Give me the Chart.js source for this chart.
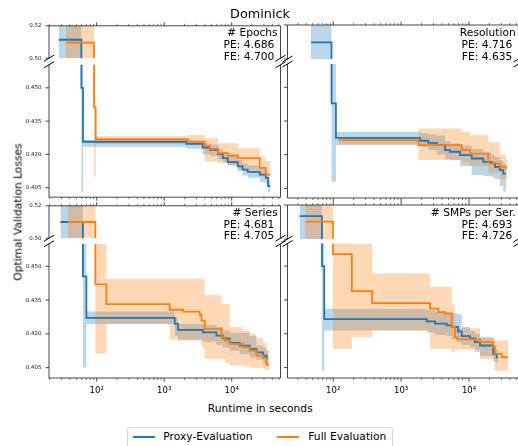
<!DOCTYPE html>
<html>
<head>
<meta charset="utf-8">
<script src="https://cdn.jsdelivr.net/npm/chart.js@4.4.1/dist/chart.umd.min.js"></script>
<style>
  html, body { margin: 0; padding: 0; background: #fff; }
  body { position: relative; width: 518px; height: 446px; overflow: hidden;
         font-family: "DejaVu Sans", sans-serif; color: #000; }
  canvas { position: absolute; }
  .txt { position: absolute; white-space: nowrap; }
  .note { position: absolute; text-align: right; font-size: 10.7px; line-height: 11.9px; white-space: nowrap; }
  .note .v { padding-right: 3.4px; }
</style>
</head>
<body>
<div id="fig"></div>
<script>
// --- Data (runtime in seconds vs. loss) ---
const PANEL_NAMES = ['# Epochs', 'Resolution', '# Series', '# SMPs per Ser.'];
const PE_SCORES = ['4.686', '4.716', '4.681', '4.693'];
const FE_SCORES = ['4.700', '4.635', '4.705', '4.726'];
const SERIES_NAMES = ['Proxy-Evaluation', 'Full Evaluation'];

const X_MAJOR = [100, 1000, 10000];
const X_LABELS = ['10\u00b2', '10\u00b3', '10\u2074'];
const X_MINOR = [20, 30, 40, 50, 60, 70, 80, 90, 200, 300, 400, 500, 600, 700, 800, 900,
                 2000, 3000, 4000, 5000, 6000, 7000, 8000, 9000, 20000, 30000, 40000, 50000];
const Y_TOP_TICKS = [0.50, 0.52];
const Y_TOP_LABELS = ['0.50', '0.52'];
const Y_BOT_TICKS = [0.405, 0.420, 0.435, 0.450];
const Y_BOT_LABELS = ['0.405', '0.420', '0.435', '0.450'];

// # Epochs
const epochsPeX  = [27.4, 59.3, 62.7, 2133, 3719, 4721, 6266, 7362, 8730, 12280, 14560, 17260, 26000, 31900, 34500, 37400];
const epochsPeY  = [0.5114, 0.4500, 0.4257, 0.4247, 0.4231, 0.4220, 0.4201, 0.4183, 0.4165, 0.4146, 0.4131, 0.4121, 0.4109, 0.4094, 0.4057, 0.4057];
const epochsPeLo = [0.49, 0.4030, 0.4235, 0.4225, 0.4200, 0.4192, 0.4178, 0.4165, 0.4150, 0.4125, 0.4105, 0.4095, 0.4075, 0.4070, 0.4030, 0.4030];
const epochsPeHi = [0.53, 0.47, 0.4265, 0.4262, 0.4250, 0.4245, 0.4225, 0.4212, 0.4198, 0.4175, 0.4160, 0.4150, 0.4135, 0.4120, 0.4085, 0.4085];
const epochsFeX  = [34.8, 91.2, 96.6, 2255, 3981, 4721, 6266, 8810, 12390, 26000, 31900, 37400];
const epochsFeY  = [0.5096, 0.4412, 0.4269, 0.4257, 0.4240, 0.4225, 0.4206, 0.4195, 0.4183, 0.4139, 0.4109, 0.4109];
const epochsFeLo = [0.49, 0.4100, 0.4247, 0.4243, 0.4168, 0.4168, 0.4160, 0.4150, 0.4131, 0.4100, 0.4094, 0.4094];
const epochsFeHi = [0.53, 0.47, 0.4282, 0.4287, 0.4273, 0.4273, 0.4250, 0.4250, 0.4228, 0.4190, 0.4170, 0.4170];

// Resolution
const resPeX  = [47, 94.4, 109.6, 1901, 2518, 3350, 4436, 5256, 7379, 10970, 16230, 21560, 24110, 28560, 31950, 35000];
const resPeY  = [0.5098, 0.4429, 0.4275, 0.4262, 0.4253, 0.4243, 0.4220, 0.4213, 0.4198, 0.4183, 0.4168, 0.4161, 0.4146, 0.4131, 0.4116, 0.4116];
const resPeLo = [0.49, 0.4079, 0.4243, 0.4235, 0.4220, 0.4200, 0.4180, 0.4175, 0.4150, 0.4110, 0.4105, 0.4100, 0.4090, 0.4060, 0.4035, 0.4035];
const resPeHi = [0.53, 0.47, 0.4302, 0.4295, 0.4290, 0.4285, 0.4260, 0.4250, 0.4240, 0.4225, 0.4210, 0.4200, 0.4190, 0.4175, 0.4160, 0.4160];
const resFeX  = [119.7, 1795, 7816, 10350, 19230, 28560, 35000, 36500];
const resFeY  = [0.4265, 0.4243, 0.4220, 0.4205, 0.4161, 0.4146, 0.4141, 0.4141];
const resFeLo = [0.4247, 0.4176, 0.4165, 0.4150, 0.4120, 0.4090, 0.4085, 0.4085];
const resFeHi = [0.4278, 0.4317, 0.4302, 0.4287, 0.4257, 0.4200, 0.4180, 0.4180];

// # Series
const seriesPeX  = [29, 62.5, 70.3, 1431, 1601, 3758, 5929, 7430, 9333, 13140, 18500, 23240, 29120, 32650, 34540];
const seriesPeY  = [0.5100, 0.4455, 0.4271, 0.4244, 0.4218, 0.4207, 0.4192, 0.4180, 0.4160, 0.4148, 0.4133, 0.4118, 0.4103, 0.4093, 0.4093];
const seriesPeLo = [0.49, 0.4051, 0.4244, 0.4190, 0.4170, 0.4165, 0.4150, 0.4140, 0.4125, 0.4110, 0.4095, 0.4085, 0.4070, 0.4065, 0.4065];
const seriesPeHi = [0.53, 0.47, 0.4299, 0.4275, 0.4245, 0.4240, 0.4230, 0.4215, 0.4205, 0.4205, 0.4190, 0.4150, 0.4140, 0.4125, 0.4125];
const seriesFeX  = [37.6, 95.6, 139.3, 1205, 1901, 3357, 3557, 3981, 7033, 7870, 9333, 14690, 18500, 23240, 29120, 32650, 35730];
const seriesFeY  = [0.5100, 0.4420, 0.4332, 0.4307, 0.4299, 0.4285, 0.4259, 0.4222, 0.4185, 0.4170, 0.4155, 0.4140, 0.4125, 0.4103, 0.4093, 0.4063, 0.4063];
const seriesFeLo = [0.49, 0.4113, 0.4245, 0.4175, 0.4175, 0.4175, 0.4140, 0.4090, 0.4090, 0.4070, 0.4060, 0.4055, 0.4050, 0.4050, 0.4045, 0.4040, 0.4040];
const seriesFeHi = [0.53, 0.47, 0.4445, 0.4445, 0.4445, 0.4445, 0.4445, 0.4371, 0.4334, 0.4334, 0.4230, 0.4215, 0.4200, 0.4180, 0.4160, 0.4130, 0.4130];

// # SMPs per Ser.
const smpsPeX  = [31.9, 68.2, 73.8, 2388, 3162, 4699, 5568, 6890, 7816, 10350, 12250, 14510, 22770, 25530, 26980];
const smpsPeY  = [0.5135, 0.4500, 0.4265, 0.4255, 0.4245, 0.4237, 0.4230, 0.4210, 0.4190, 0.4180, 0.4163, 0.4148, 0.4111, 0.4095, 0.4095];
const smpsPeLo = [0.49, 0.4036, 0.4215, 0.4205, 0.4195, 0.4190, 0.4175, 0.4160, 0.4150, 0.4140, 0.4120, 0.4100, 0.4075, 0.4070, 0.4070];
const smpsPeHi = [0.53, 0.47, 0.4311, 0.4305, 0.4300, 0.4295, 0.4290, 0.4285, 0.4230, 0.4215, 0.4200, 0.4185, 0.4150, 0.4130, 0.4130];
const smpsFeX  = [38.7, 99, 188, 375, 2667, 3540, 4436, 5568, 6226, 6664, 14510, 22770, 24110, 30260, 37880];
const smpsFeY  = [0.5102, 0.4553, 0.4389, 0.4336, 0.4311, 0.4296, 0.4289, 0.4230, 0.4185, 0.4175, 0.4163, 0.4141, 0.4111, 0.4096, 0.4096];
const smpsFeLo = [0.49, 0.4133, 0.4185, 0.4215, 0.4133, 0.4133, 0.4133, 0.4120, 0.4130, 0.4130, 0.4088, 0.4088, 0.4036, 0.4036, 0.4036];
const smpsFeHi = [0.53, 0.47, 0.47, 0.4467, 0.4408, 0.4408, 0.4408, 0.4330, 0.4224, 0.4224, 0.4180, 0.4180, 0.4170, 0.4170, 0.4170];

const PANELS = [
  { pe: [epochsPeX, epochsPeY, epochsPeLo, epochsPeHi], fe: [epochsFeX, epochsFeY, epochsFeLo, epochsFeHi] },
  { pe: [resPeX, resPeY, resPeLo, resPeHi],             fe: [resFeX, resFeY, resFeLo, resFeHi] },
  { pe: [seriesPeX, seriesPeY, seriesPeLo, seriesPeHi], fe: [seriesFeX, seriesFeY, seriesFeLo, seriesFeHi] },
  { pe: [smpsPeX, smpsPeY, smpsPeLo, smpsPeHi],         fe: [smpsFeX, smpsFeY, smpsFeLo, smpsFeHi] }
];

// --- Layout (pixels in the 518x446 page) ---
const BLUE = '#1f77b4', ORANGE = '#ff7f0e';
const BLUE_BAND = 'rgba(31,119,180,0.3)', ORANGE_BAND = 'rgba(255,127,14,0.3)';
const COLS = [
  { x0: 49, x1: 280.5, xMin: 19.65, xMax: 52800 },
  { x0: 287.5, x1: 518.5, xMin: 21.2, xMax: 53600 }
];
const ROWS = [
  { top: [25, 59], bot: [64, 198], yBot: [0.4007, 0.4604], note: 27.3 },
  { top: [205, 239], bot: [243.5, 378], yBot: [0.4004, 0.4600], note: 206.6 }
];
const Y_TOP_RANGE = [0.50, 0.52];
const AXIS_W = 49, PAD = 10, XLAB_H = 24;
const SPINE = '#262626';

const fig = document.getElementById('fig');

function addCanvas(left, top, w, h) {
  const c = document.createElement('canvas');
  c.width = w; c.height = h;
  c.style.left = left + 'px'; c.style.top = top + 'px';
  c.style.width = w + 'px'; c.style.height = h + 'px';
  fig.appendChild(c);
  return c;
}

function addText(text, css) {
  const d = document.createElement('div');
  d.className = 'txt';
  d.textContent = text;
  Object.assign(d.style, css);
  fig.appendChild(d);
  return d;
}

// spines, tick marks and the "//" break marks of a broken axis
const decor = {
  id: 'decor',
  afterDraw(chart, args, o) {
    const { ctx, chartArea: a, scales } = chart;
    const ey = o.part === 'top' ? a.top : a.bottom;
    const dir = o.part === 'top' ? -1 : 1;
    const inX = v => v >= scales.x.min && v <= scales.x.max;
    ctx.save();
    ctx.strokeStyle = SPINE;
    ctx.lineWidth = 0.85;
    ctx.beginPath();
    ctx.moveTo(a.left, a.top); ctx.lineTo(a.left, a.bottom);
    ctx.moveTo(a.right, a.top); ctx.lineTo(a.right, a.bottom);
    ctx.moveTo(a.left, ey); ctx.lineTo(a.right, ey);
    o.yTicks.forEach(v => {
      const y = scales.y.getPixelForValue(v);
      ctx.moveTo(a.left - 3.5, y); ctx.lineTo(a.left, y);
    });
    X_MAJOR.filter(inX).forEach(v => {
      const x = scales.x.getPixelForValue(v);
      ctx.moveTo(x, ey); ctx.lineTo(x, ey + dir * 3.5);
    });
    ctx.stroke();
    ctx.lineWidth = 0.6;
    ctx.beginPath();
    X_MINOR.filter(inX).forEach(v => {
      const x = scales.x.getPixelForValue(v);
      ctx.moveTo(x, ey); ctx.lineTo(x, ey + dir * 2);
    });
    ctx.stroke();
    const by = o.part === 'top' ? a.bottom : a.top;
    ctx.lineWidth = 1;
    ctx.strokeStyle = '#000';
    ctx.beginPath();
    [a.left, a.right].forEach(x => { ctx.moveTo(x - 5, by + 3); ctx.lineTo(x + 5, by - 3); });
    ctx.stroke();
    ctx.restore();
  }
};

function pts(xs, ys) { return xs.map((x, i) => ({ x: x, y: ys[i] })); }

function bandSets(s, color, order) {
  const base = { stepped: true, borderWidth: 0, borderColor: 'rgba(0,0,0,0)', pointRadius: 0, order: order, clip: 0 };
  return [
    Object.assign({}, base, { data: pts(s[0], s[3]), fill: false }),
    Object.assign({}, base, { data: pts(s[0], s[2]), fill: '-1', backgroundColor: color })
  ];
}

function lineSet(s, color, order) {
  return { data: pts(s[0], s[1]), stepped: true, borderColor: color, borderWidth: 1.8,
           pointRadius: 0, fill: false, order: order, clip: 0, borderJoinStyle: 'miter' };
}

function makeSubplot(p, part) {
  const col = COLS[p % 2], row = ROWS[Math.floor(p / 2)];
  const [y0, y1] = row[part];
  const leftAxis = p % 2 === 0;
  const xLabels = part === 'bot' && p >= 2;
  const cl = Math.floor(col.x0 - AXIS_W);
  const ct = Math.floor(y0 - PAD);
  const cw = Math.ceil(col.x1 + PAD) - cl;
  const ch = Math.ceil(y1 + (xLabels ? XLAB_H : PAD)) - ct;
  const below = ct + ch - y1;
  const canvas = addCanvas(cl, ct, cw, ch);
  const yTicks = part === 'top' ? Y_TOP_TICKS : Y_BOT_TICKS;
  const yLabels = part === 'top' ? Y_TOP_LABELS : Y_BOT_LABELS;
  const yRange = part === 'top' ? Y_TOP_RANGE : row.yBot;
  const panel = PANELS[p];

  const datasets = [
    ...bandSets(panel.pe, BLUE_BAND, 3),
    ...bandSets(panel.fe, ORANGE_BAND, 2),
    lineSet(panel.pe, BLUE, 1),
    lineSet(panel.fe, ORANGE, 0)
  ];

  new Chart(canvas, {
    type: 'line',
    data: { datasets: datasets },
    options: {
      responsive: false,
      animation: false,
      devicePixelRatio: 1,
      events: [],
      layout: {
        padding: {
          left: leftAxis ? col.x0 - AXIS_W - cl : col.x0 - cl,
          top: y0 - ct,
          right: cl + cw - col.x1,
          bottom: xLabels ? 0 : below
        }
      },
      plugins: {
        legend: { display: false },
        tooltip: { enabled: false },
        decor: { part: part, yTicks: yTicks }
      },
      scales: {
        x: {
          type: 'logarithmic',
          min: col.xMin, max: col.xMax,
          display: xLabels,
          grid: { display: false, drawTicks: false },
          border: { display: false },
          afterBuildTicks: s => { s.ticks = X_MAJOR.map(v => ({ value: v, major: true })); },
          afterFit: s => { s.height = xLabels ? below : 0; },
          ticks: {
            autoSkip: false, maxRotation: 0, minRotation: 0, padding: 8,
            color: '#000', font: { family: 'DejaVu Sans', size: 8.5 },
            callback: (v, i) => X_LABELS[i]
          }
        },
        y: {
          type: 'linear',
          min: yRange[0], max: yRange[1],
          display: leftAxis,
          grid: { display: false, drawTicks: false },
          border: { display: false },
          afterBuildTicks: s => { s.ticks = yTicks.map(v => ({ value: v })); },
          afterFit: s => { s.width = leftAxis ? AXIS_W : 0; },
          ticks: {
            padding: 7.5,
            color: '#222', font: { family: 'DejaVu Sans', size: 5.5 },
            callback: (v, i) => yLabels[i]
          }
        }
      }
    },
    plugins: [decor]
  });
}

for (let p = 0; p < 4; p++) {
  makeSubplot(p, 'top');
  makeSubplot(p, 'bot');
}

// panel notes (top right corner of each panel)
for (let p = 0; p < 4; p++) {
  const col = COLS[p % 2], row = ROWS[Math.floor(p / 2)];
  const d = document.createElement('div');
  d.className = 'note';
  d.style.right = (518 - (col.x1 - 2.8)) + 'px';
  d.style.top = row.note + 'px';
  [PANEL_NAMES[p], 'PE: ' + PE_SCORES[p], 'FE: ' + FE_SCORES[p]].forEach((t, i) => {
    const l = document.createElement('div');
    if (i > 0) l.className = 'v';
    l.textContent = t;
    d.appendChild(l);
  });
  fig.appendChild(d);
}

// titles and axis labels
addText('Dominick', { left: '160px', width: '200px', textAlign: 'center', top: '6px', fontSize: '12.8px', lineHeight: '15px' });
addText('Runtime in seconds', { left: '160.3px', width: '200px', textAlign: 'center', top: '401.5px', fontSize: '10.7px', lineHeight: '13px' });
addText('Optimal Validation Losses', { left: '17.5px', top: '212px', fontSize: '10.7px', lineHeight: '13px',
  transform: 'translate(-50%, -50%) rotate(-90deg)' });

// legend
const lg = document.createElement('div');
Object.assign(lg.style, { position: 'absolute', left: '126.5px', top: '427px', width: '266.5px', height: '30px',
  border: '1px solid #d4d4d4', borderRadius: '3px', boxSizing: 'border-box', background: '#fff' });
fig.appendChild(lg);
[[132.7, 163.3, BLUE], [276.7, 308.3, ORANGE]].forEach((e, i) => {
  const sw = document.createElement('div');
  Object.assign(sw.style, { position: 'absolute', left: e[0] + 'px', top: '435.8px', width: '22.3px', height: '1.8px', background: e[2] });
  fig.appendChild(sw);
  addText(SERIES_NAMES[i], { left: e[1] + 'px', top: '430.2px', fontSize: '10.7px', lineHeight: '13px' });
});
</script>
</body>
</html>
